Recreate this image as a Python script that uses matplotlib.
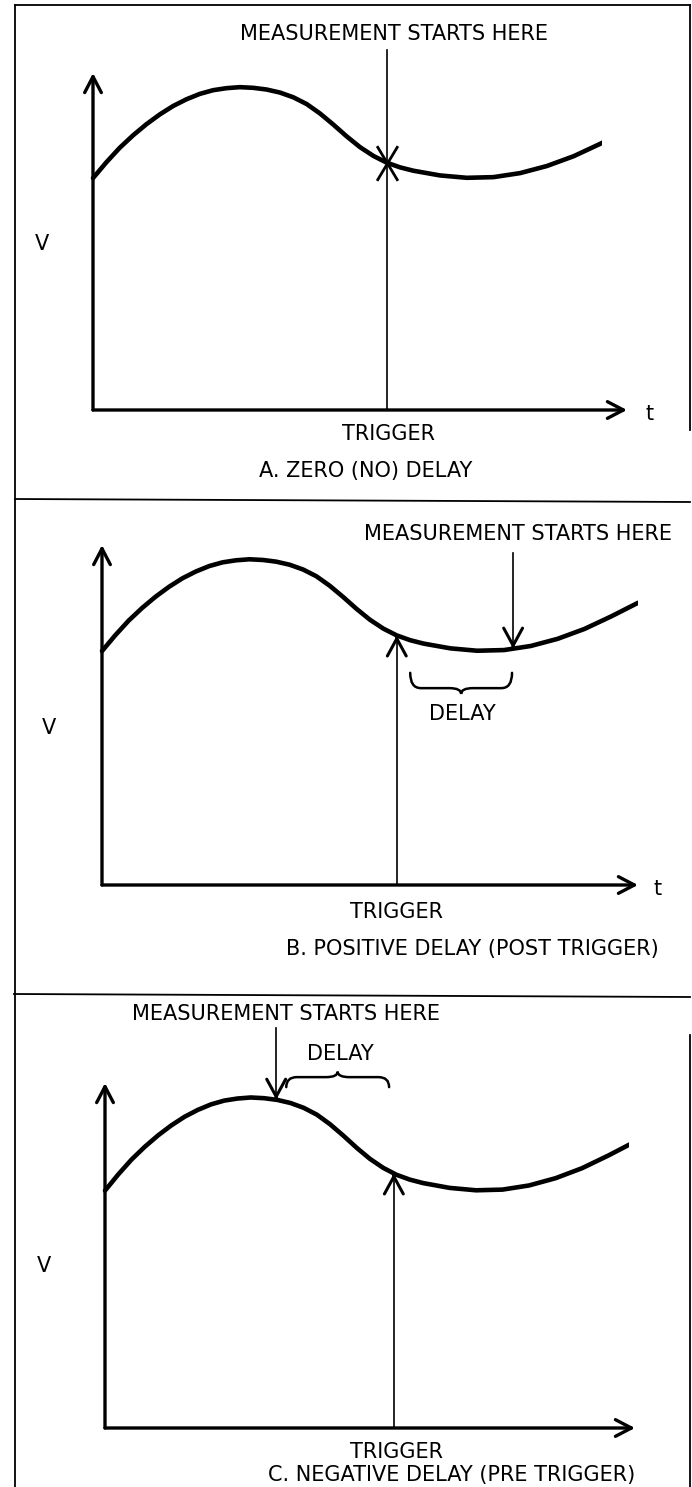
import numpy as np
import matplotlib.pyplot as plt
from matplotlib.path import Path
from matplotlib.patches import PathPatch, Rectangle

W, H = 692, 1487

# waveform, axis units (t and V both 0..10)
curve_t = [0.00, 0.25, 0.50, 0.75, 1.00, 1.25, 1.50, 1.75, 2.00, 2.25, 2.50,
           2.75, 3.00, 3.25, 3.50, 3.75, 4.00, 4.25, 4.50, 4.75, 5.00, 5.25,
           5.50, 5.75, 6.00, 6.50, 7.00, 7.50, 8.00, 8.50, 9.00, 9.50, 10.0]
curve_v = [6.88, 7.35, 7.78, 8.15, 8.48, 8.77, 9.02, 9.22, 9.38, 9.49, 9.55,
           9.58, 9.56, 9.51, 9.42, 9.28, 9.08, 8.80, 8.47, 8.12, 7.80, 7.54,
           7.34, 7.20, 7.10, 6.96, 6.89, 6.91, 7.03, 7.24, 7.53, 7.90, 8.30]

trigger_t = [5.51, 5.50, 5.45]
measure_t = [5.51, 7.67, 3.23]
curve_end = [9.53, 10.0, 9.89]
delay_start = [None, 5.75, 3.42]
delay_stop = [None, 7.65, 5.36]
captions = ["A. ZERO (NO) DELAY", "B. POSITIVE DELAY (POST TRIGGER)",
            "C. NEGATIVE DELAY (PRE TRIGGER)"]

# layout (pixels): panel plot boxes left, top, right, bottom
boxes = [(93, 73, 627, 410), (102, 545, 638, 885), (105, 1083, 635, 1428)]

FS = 15
plt.rcParams['font.family'] = ['DejaVu Sans']

fig = plt.figure(figsize=(W / 100, H / 100), dpi=100)
bg = fig.add_axes([0, 0, 1, 1])
bg.set_xlim(0, W)
bg.set_ylim(H, 0)
bg.axis('off')

# frame lines
frame_kw = dict(color='k', lw=1.3)
bg.plot([15, 690], [5, 5], **frame_kw)
bg.plot([15, 15], [5, H], **frame_kw)
bg.plot([15, 690], [499, 502], **frame_kw)
bg.plot([14, 690], [994, 997], **frame_kw)
bg.plot([690, 690], [5, 430], **frame_kw)
bg.plot([690, 690], [1035, H], **frame_kw)


def txt(x, y, s, ha='center'):
    bg.text(x, y, s, fontsize=FS, ha=ha, va='baseline', color='k')


def head(ax, t, v, down):
    d = 0.05 if down else -0.05
    ax.annotate('', xy=(t, v), xytext=(t, v + d),
                arrowprops=dict(arrowstyle='->,head_length=1.25,head_width=0.68',
                                lw=2.2, color='k', shrinkA=0, shrinkB=0,
                                mutation_scale=10),
                annotation_clip=False)


def brace(ax, t0, t1, v_end, v_bar, v_tip):
    tm = (t0 + t1) / 2
    rw, cw = 0.2, 0.22
    verts = [(t0, v_end), (t0, v_bar), (t0 + rw, v_bar), (tm - cw, v_bar),
             (tm, v_bar), (tm, v_tip), (tm, v_bar), (tm + cw, v_bar),
             (t1 - rw, v_bar), (t1, v_bar), (t1, v_end)]
    codes = [Path.MOVETO, Path.CURVE3, Path.CURVE3, Path.LINETO,
             Path.CURVE3, Path.CURVE3, Path.CURVE3, Path.CURVE3,
             Path.LINETO, Path.CURVE3, Path.CURVE3]
    ax.add_patch(PathPatch(Path(verts, codes), fill=False, lw=1.8,
                           ec='k', clip_on=False, capstyle='round'))


axes_kw = dict(arrowstyle='->,head_length=1.15,head_width=0.6', lw=2.4,
               color='k', shrinkA=0, shrinkB=0, mutation_scale=10)

for i, (l, t, r, b) in enumerate(boxes):
    ax = fig.add_axes([l / W, 1 - b / H, (r - l) / W, (b - t) / H])
    ax.set_xlim(0, 10)
    ax.set_ylim(0, 10)
    ax.axis('off')
    ax.patch.set_visible(False)

    # axes with arrows
    ax.annotate('', xy=(10, 0), xytext=(0, 0), arrowprops=axes_kw,
                annotation_clip=False)
    ax.annotate('', xy=(0, 10), xytext=(0, 0), arrowprops=axes_kw,
                annotation_clip=False)

    line, = ax.plot(curve_t, curve_v, color='k', lw=3.3,
                    solid_joinstyle='round', solid_capstyle='round')
    line.set_clip_path(Rectangle((-1, -5), curve_end[i] + 1, 30,
                                 transform=ax.transData))

    v_trig = np.interp(trigger_t[i], curve_t, curve_v)
    v_meas = np.interp(measure_t[i], curve_t, curve_v)

    if i == 0:
        ax.plot([trigger_t[i], trigger_t[i]], [0, 10.68], color='k', lw=1.2,
                clip_on=False)
        xm = Path([(-0.6, -1), (0.6, 1), (0.6, -1), (-0.6, 1)],
                  [Path.MOVETO, Path.LINETO, Path.MOVETO, Path.LINETO])
        ax.plot([trigger_t[i]], [v_trig], marker=xm, ms=25, mew=2.0,
                color='k', clip_on=False)
    else:
        # trigger arrow from the t axis up to the curve
        ax.plot([trigger_t[i], trigger_t[i]], [0, v_trig], color='k', lw=1.2)
        head(ax, trigger_t[i], v_trig, down=False)
        # measurement arrow from above down to the curve
        top = 9.76 if i == 1 else 11.59
        ax.plot([measure_t[i], measure_t[i]], [top, v_meas], color='k', lw=1.2,
                clip_on=False)
        head(ax, measure_t[i], v_meas, down=True)

    if i == 1:
        brace(ax, delay_start[i], delay_stop[i], 6.24, 5.79, 5.62)
    elif i == 2:
        brace(ax, delay_start[i], delay_stop[i], 9.88, 10.17, 10.33)

# labels
txt(394, 40.5, "MEASUREMENT STARTS HERE")
txt(389, 440.5, "TRIGGER")
txt(366, 477.5, captions[0])
txt(42, 249.5, "V")
txt(650, 420, "t")

txt(518, 540.5, "MEASUREMENT STARTS HERE")
txt(462, 719.5, "DELAY")
txt(397, 917.5, "TRIGGER")
txt(472, 955.5, captions[1])
txt(49, 734.5, "V")
txt(658, 895, "t")

txt(286, 1020.5, "MEASUREMENT STARTS HERE")
txt(340, 1060.5, "DELAY")
txt(396, 1457.5, "TRIGGER")
txt(452, 1480.5, captions[2])
txt(44, 1272.5, "V")

fig.savefig("out.png", dpi=100, facecolor='white')
